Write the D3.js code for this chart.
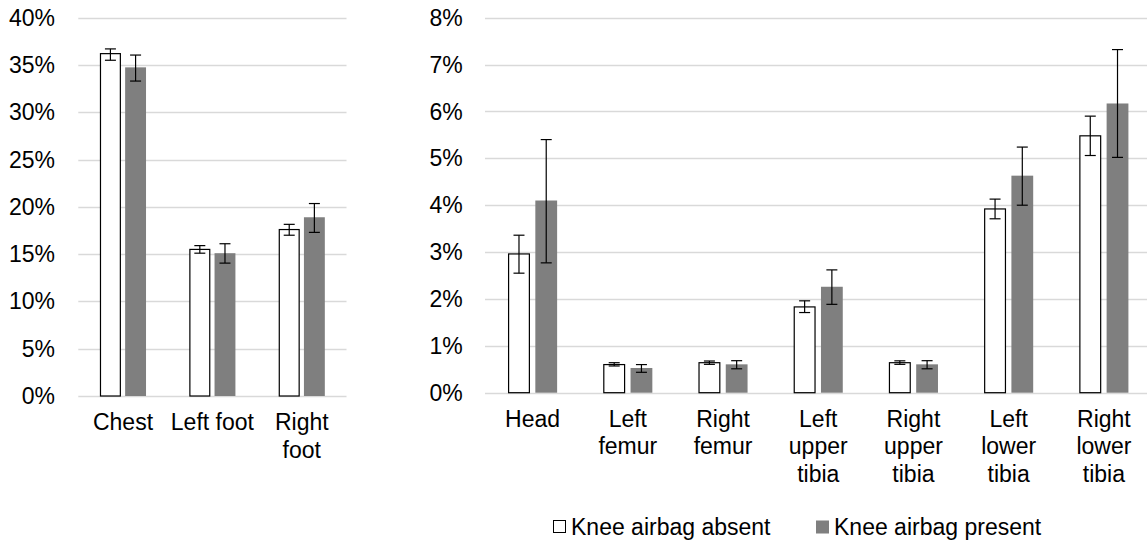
<!DOCTYPE html>
<html>
<head>
<meta charset="utf-8">
<script src="https://cdn.jsdelivr.net/npm/d3@7"></script>
<style>
  body { margin: 0; background: #fff; }
  svg { display: block; font-family: Arial, "Liberation Sans", sans-serif; }
</style>
</head>
<body>
<svg id="chart" width="1147" height="542"></svg>
<script>
// ---- data ----
var series = ["Knee airbag absent", "Knee airbag present"];

var leftCategories = ["Chest", "Left foot", "Right foot"];
var leftTicks = [0, 5, 10, 15, 20, 25, 30, 35, 40];
var leftAbsent = [36.2, 15.5, 17.6];
var leftAbsentLo = [35.5, 15.1, 17.0];
var leftAbsentHi = [36.7, 15.9, 18.15];
var leftPresent = [34.75, 15.1, 18.9];
var leftPresentLo = [33.3, 14.05, 17.3];
var leftPresentHi = [36.05, 16.1, 20.35];

var rightCategories = ["Head", "Left femur", "Right femur", "Left upper tibia",
  "Right upper tibia", "Left lower tibia", "Right lower tibia"];
var rightTicks = [0, 1, 2, 3, 4, 5, 6, 7, 8];
var rightAbsent = [2.96, 0.6, 0.64, 1.83, 0.64, 3.92, 5.48];
var rightAbsentLo = [2.55, 0.57, 0.605, 1.71, 0.605, 3.71, 5.06];
var rightAbsentHi = [3.36, 0.64, 0.676, 1.96, 0.68, 4.13, 5.9];
var rightPresent = [4.1, 0.527, 0.605, 2.26, 0.605, 4.63, 6.17];
var rightPresentLo = [2.77, 0.435, 0.51, 1.885, 0.51, 4.0, 5.02];
var rightPresentHi = [5.4, 0.6, 0.683, 2.62, 0.683, 5.24, 7.32];

var FONT = 23;
var svg = d3.select("#chart");

function rows(cats, a, aLo, aHi, p, pLo, pHi) {
  return cats.map(function(c, i) {
    return {
      cat: c,
      vals: [
        { s: 0, v: a[i], lo: aLo[i], hi: aHi[i] },
        { s: 1, v: p[i], lo: pLo[i], hi: pHi[i] }
      ]
    };
  });
}

function wrap(text, width) {
  text.each(function() {
    var t = d3.select(this),
        words = t.text().split(/\s+/),
        x = t.attr("x"),
        line = [],
        lines = [];
    t.text(null);
    var tspan = t.append("tspan").attr("x", x);
    words.forEach(function(w) {
      line.push(w);
      tspan.text(line.join(" "));
      if (tspan.node().getComputedTextLength() > width && line.length > 1) {
        line.pop();
        lines.push(line.join(" "));
        line = [w];
        tspan.text(w);
      }
    });
    lines.push(line.join(" "));
    t.text(null);
    lines.forEach(function(l, i) {
      t.append("tspan").attr("x", x).attr("dy", i === 0 ? 0 : FONT * 1.2).text(l);
    });
  });
}

function panel(opt) {
  var g = svg.append("g");
  var data = rows(opt.cats, opt.a, opt.aLo, opt.aHi, opt.p, opt.pLo, opt.pHi);

  var y = d3.scaleLinear().domain([0, d3.max(opt.ticks)]).range([opt.bottom, opt.top]);
  var x0 = d3.scaleBand().domain(opt.cats).range([opt.left, opt.right])
    .paddingInner(0.485).paddingOuter(0.2425);
  var x1 = d3.scaleBand().domain([0, 1]).range([0, x0.bandwidth()]).paddingInner(opt.gap);

  // gridlines
  g.selectAll("line.grid").data(opt.ticks).enter().append("line")
    .attr("class", "grid")
    .attr("x1", opt.left).attr("x2", opt.right)
    .attr("y1", function(d) { return Math.round(y(d)) + 0.5; })
    .attr("y2", function(d) { return Math.round(y(d)) + 0.5; })
    .attr("stroke", "#d9d9d9").attr("stroke-width", 1.3);

  // y tick labels
  g.selectAll("text.ytick").data(opt.ticks).enter().append("text")
    .attr("x", opt.labelX)
    .attr("y", function(d) { return y(d); })
    .attr("dy", "0.35em")
    .attr("text-anchor", "end")
    .attr("font-size", FONT)
    .attr("fill", "#000")
    .text(function(d) { return d + "%"; });

  var grp = g.selectAll("g.cat").data(data).enter().append("g")
    .attr("transform", function(d) { return "translate(" + x0(d.cat) + ",0)"; });

  grp.selectAll("rect").data(function(d) { return d.vals; }).enter().append("rect")
    .attr("x", function(d) { return x1(d.s) + (d.s === 0 ? 0.5 : 0); })
    .attr("width", function(d) { return x1.bandwidth() - (d.s === 0 ? 1 : 0); })
    .attr("y", function(d) { return y(d.v); })
    .attr("height", function(d) { return y(0) - y(d.v); })
    .attr("fill", function(d) { return d.s === 0 ? "#fff" : "#7f7f7f"; })
    .attr("stroke", function(d) { return d.s === 0 ? "#000" : "none"; })
    .attr("stroke-width", 1.2);

  // error bars
  var eb = grp.selectAll("g.err").data(function(d) { return d.vals; }).enter().append("g")
    .attr("transform", function(d) { return "translate(" + (x1(d.s) + x1.bandwidth() / 2) + ",0)"; })
    .attr("stroke", "#000").attr("stroke-width", 1.2);
  eb.append("line")
    .attr("x1", 0).attr("x2", 0)
    .attr("y1", function(d) { return y(d.lo); })
    .attr("y2", function(d) { return y(d.hi); });
  eb.append("line")
    .attr("x1", -5.5).attr("x2", 5.5)
    .attr("y1", function(d) { return y(d.lo); })
    .attr("y2", function(d) { return y(d.lo); });
  eb.append("line")
    .attr("x1", -5.5).attr("x2", 5.5)
    .attr("y1", function(d) { return y(d.hi); })
    .attr("y2", function(d) { return y(d.hi); });

  // category labels
  g.selectAll("text.xlab").data(opt.cats).enter().append("text")
    .attr("class", "xlab")
    .attr("x", function(d) { return x0(d) + x0.bandwidth() / 2; })
    .attr("y", opt.bottom + 34)
    .attr("text-anchor", "middle")
    .attr("font-size", FONT)
    .attr("fill", "#000")
    .text(function(d) { return d; })
    .call(wrap, x0.step() - 4);
}

panel({
  cats: leftCategories, ticks: leftTicks,
  a: leftAbsent, aLo: leftAbsentLo, aHi: leftAbsentHi,
  p: leftPresent, pLo: leftPresentLo, pHi: leftPresentHi,
  left: 78.3, right: 346.5, top: 17.7, bottom: 396, labelX: 55, gap: 0.17
});

panel({
  cats: rightCategories, ticks: rightTicks,
  a: rightAbsent, aLo: rightAbsentLo, aHi: rightAbsentHi,
  p: rightPresent, pLo: rightPresentLo, pHi: rightPresentHi,
  left: 485, right: 1151.5, top: 17.7, bottom: 392.7, labelX: 462.7, gap: 0.2
});

// legend
var legendX = [553, 816];
var leg = svg.selectAll("g.leg").data(series).enter().append("g")
  .attr("transform", function(d, i) { return "translate(" + legendX[i] + ",520)"; });
leg.append("rect")
  .attr("x", function(d, i) { return i === 0 ? 0.5 : 0; })
  .attr("y", 0.5)
  .attr("width", function(d, i) { return i === 0 ? 12 : 13; })
  .attr("height", function(d, i) { return i === 0 ? 12 : 13; })
  .attr("fill", function(d, i) { return i === 0 ? "#fff" : "#7f7f7f"; })
  .attr("stroke", function(d, i) { return i === 0 ? "#000" : "none"; })
  .attr("stroke-width", 1);
leg.append("text")
  .attr("x", 18)
  .attr("y", 15)
  .attr("font-size", FONT)
  .attr("fill", "#000")
  .text(function(d) { return d; });
</script>
</body>
</html>
